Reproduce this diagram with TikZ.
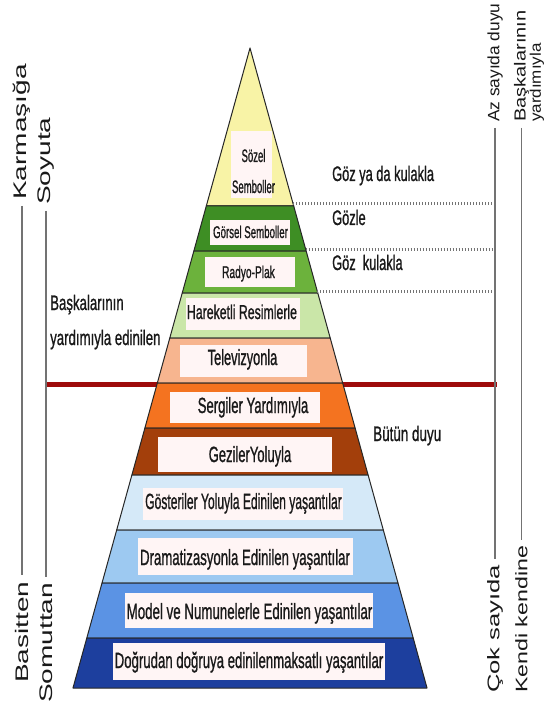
\documentclass[tikz,border=0pt]{standalone}
\usepackage{fontspec}
\setmainfont{Liberation Sans}[BoldFont={Liberation Sans},BoldFeatures={FakeBold=1.2}]
\usepackage{graphicx}
\definecolor{yel}{HTML}{F8F3A6}
\definecolor{gdark}{HTML}{3E8E24}
\definecolor{gmid}{HTML}{6CB23C}
\definecolor{glight}{HTML}{CAE6A8}
\definecolor{peach}{HTML}{F7B58F}
\definecolor{orng}{HTML}{F47320}
\definecolor{brwn}{HTML}{A33F0B}
\definecolor{blueA}{HTML}{D5E9F8}
\definecolor{blueB}{HTML}{9DC9F1}
\definecolor{blueC}{HTML}{5B93E4}
\definecolor{blueD}{HTML}{1D3F9E}
\definecolor{darkred}{HTML}{9E0B0B}
\definecolor{boxpink}{HTML}{FFF5F5}
\newcommand\tx[3]{{\fontsize{#1}{#1}\selectfont\bfseries\scalebox{#2}[1]{#3}}}
\newcommand\vtx[3]{{\fontsize{#1}{#1}\selectfont\scalebox{1}[#2]{#3}}}
\newcommand\pband[3]{%
  \pgfmathsetmacro\hwa{0.2766*(#1-48)}%
  \pgfmathsetmacro\hwb{0.2766*(#2-48)}%
  \filldraw[band,fill=#3] ({250-\hwa},#1) -- ({250+\hwa},#1) -- ({250+\hwb},#2) -- ({250-\hwb},#2) -- cycle;}
\begin{document}
\begin{tikzpicture}[x=1pt,y=-1pt,
  band/.style={draw=black!85,line width=1pt,line join=round},
  wbox/.style={fill=boxpink,draw=none,inner sep=0pt,anchor=north west},
  lbl/.style={inner sep=0pt,anchor=base,text=black!90},
  lbw/.style={inner sep=0pt,anchor=base west,text=black!90},
  vlab/.style={rotate=90,inner xsep=6pt,inner ysep=1pt,anchor=west,text=black!90},
  side/.style={draw=black!55,line width=1.2pt},
  guide/.style={draw=black!55,line width=3pt,dash pattern=on 0.7pt off 2.3pt},
  redline/.style={draw=darkred,line width=5pt}]
\useasboundingbox[fill=white] (0,0) rectangle (546,703);

% red separator
\coordinate (rl1) at (46,384);
\coordinate (rl2) at (497,384);
\draw[redline] (rl1) -- (rl2);

% pyramid bands
\filldraw[band,fill=yel] (250,48) -- (293.7,206) -- (206.3,206) -- cycle;
\pband{206}{251}{gdark}
\pband{251}{293}{gmid}
\pband{293}{338}{glight}
\pband{338}{383}{peach}
\pband{383}{428}{orng}
\pband{428}{475}{brwn}
\pband{475}{530}{blueA}
\pband{530}{583}{blueB}
\pband{583}{638}{blueC}
\pband{638}{688}{blueD}

% white boxes
\node[wbox,minimum width=41pt,minimum height=67pt] (b1) at (231,131) {};
\node[wbox,minimum width=80pt,minimum height=25pt] (b2) at (210,220) {};
\node[wbox,minimum width=90pt,minimum height=30pt] (b3) at (205,257) {};
\node[wbox,minimum width=114pt,minimum height=32pt] (b4) at (186,298) {};
\node[wbox,minimum width=127pt,minimum height=32pt] (b5) at (180,345) {};
\node[wbox,minimum width=150pt,minimum height=31pt] (b6) at (170,392) {};
\node[wbox,minimum width=174pt,minimum height=35pt] (b7) at (158,437) {};
\node[wbox,minimum width=200pt,minimum height=32pt] (b8) at (143,488) {};
\node[wbox,minimum width=215pt,minimum height=37pt] (b9) at (138,538) {};
\node[wbox,minimum width=248pt,minimum height=35pt] (b10) at (125,593) {};
\node[wbox,minimum width=272pt,minimum height=37pt] (b11) at (113,643) {};

% band texts
\node[lbl] (t1a) at (253.5,162) {\tx{18}{0.53}{Sözel}};
\node[lbl] (t1b) at (253.5,193) {\tx{18}{0.53}{Semboller}};
\node[lbl] (t2) at (250.5,238) {\tx{17}{0.57}{Görsel Semboller}};
\node[lbl] (t3) at (248.5,278) {\tx{17}{0.6}{Radyo-Plak}};
\node[lbl] (t4) at (242,319) {\tx{20}{0.615}{Hareketli Resimlerle}};
\node[lbl] (t5) at (242.5,365) {\tx{22}{0.58}{Televizyonla}};
\node[lbl] (t6) at (253,413) {\tx{22}{0.596}{Sergiler Yardımıyla}};
\node[lbl] (t7) at (250,462) {\tx{22}{0.59}{GezilerYoluyla}};
\node[lbl] (t8) at (243.5,509) {\tx{22}{0.55}{Gösteriler Yoluyla Edinilen yaşantılar}};
\node[lbl] (t9) at (245,565) {\tx{22}{0.60}{Dramatizasyonla Edinilen yaşantılar}};
\node[lbl] (t10) at (249.5,619) {\tx{22}{0.605}{Model ve Numunelerle Edinilen yaşantılar}};
\node[lbl] (t11) at (249,668) {\tx{22}{0.60}{Doğrudan doğruya edinilenmaksatlı yaşantılar}};

% dotted guides
\coordinate (g1a) at (293.1,204); \coordinate (g1b) at (494,204);
\coordinate (g2a) at (305.6,249); \coordinate (g2b) at (494,249);
\coordinate (g3a) at (317.2,291); \coordinate (g3b) at (494,291);
\draw[guide] (g1a) -- (g1b);
\draw[guide] (g2a) -- (g2b);
\draw[guide] (g3a) -- (g3b);

% side labels
\node[lbw] (r1) at (332,181) {\tx{21}{0.61}{Göz ya da kulakla}};
\node[lbw] (r2) at (332,225) {\tx{21}{0.61}{Gözle}};
\node[lbw] (r3) at (332,270) {\tx{21}{0.61}{Göz~~kulakla}};
\node[lbw] (r4) at (373,441) {\tx{21}{0.64}{Bütün duyu}};
\node[lbw] (l1) at (50,310) {\tx{21}{0.63}{Başkalarının}};
\node[lbw] (l2) at (50,345) {\tx{21}{0.63}{yardımıyla edinilen}};

% vertical scales
\node[vlab] (karm) at (22,206) {\vtx{28}{0.65}{Karmaşığa}};
\node[vlab] (basit) at (22,689) {\vtx{28}{0.65}{Basitten}};
\node[vlab] (soy) at (46,211) {\vtx{28}{0.65}{Soyuta}};
\node[vlab] (somut) at (46,709) {\vtx{28}{0.65}{Somuttan}};
\node[vlab] (az) at (495,128) {\vtx{17.3}{0.95}{Az sayıda duyu}};
\node[vlab] (cok) at (495,699) {\vtx{25.6}{0.66}{Çok sayıda}};
\node[vlab] (bask) at (521.5,128) {\vtx{20}{0.8}{Başkalarının}};
\node[vlab] (yard) at (537,128) {\vtx{17}{0.9}{yardımıyla}};
\node[vlab] (kendi) at (521.5,699) {\vtx{23.2}{0.72}{Kendi kendine}};

\draw[side] (karm.west) -- (basit.east);
\draw[side] (soy.west) -- (somut.east);
\draw[side] (az.west) -- (cok.east);
\draw[side] (bask.west) -- (kendi.east);
\end{tikzpicture}
\end{document}
